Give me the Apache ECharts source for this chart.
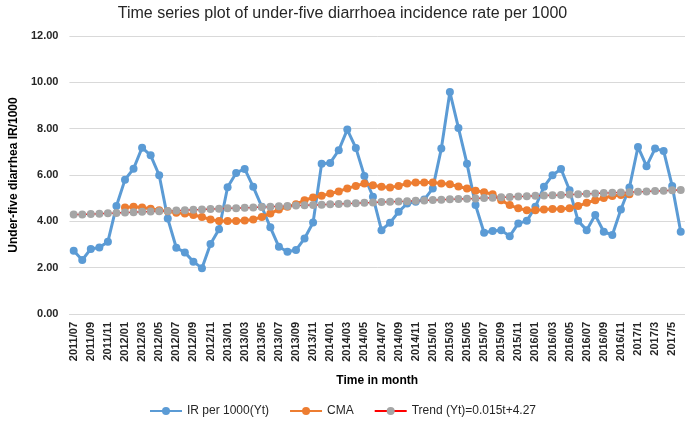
<!DOCTYPE html>
<html>
<head>
<meta charset="utf-8">
<script src="https://cdn.jsdelivr.net/npm/echarts@6/dist/echarts.min.js"></script>
<style>
html,body{margin:0;padding:0;background:#fff;}
#chart{width:685px;height:422px;}
</style>
</head>
<body>
<div id="chart"></div>
<script>
const categories = [
  "2011/07","2011/08","2011/09","2011/10","2011/11","2011/12",
  "2012/01","2012/02","2012/03","2012/04","2012/05","2012/06","2012/07","2012/08","2012/09","2012/10","2012/11","2012/12",
  "2013/01","2013/02","2013/03","2013/04","2013/05","2013/06","2013/07","2013/08","2013/09","2013/10","2013/11","2013/12",
  "2014/01","2014/02","2014/03","2014/04","2014/05","2014/06","2014/07","2014/08","2014/09","2014/10","2014/11","2014/12",
  "2015/01","2015/02","2015/03","2015/04","2015/05","2015/06","2015/07","2015/08","2015/09","2015/10","2015/11","2015/12",
  "2016/01","2016/02","2016/03","2016/04","2016/05","2016/06","2016/07","2016/08","2016/09","2016/10","2016/11","2016/12",
  "2017/1","2017/2","2017/3","2017/4","2017/5","2017/6"
];

const irValues = [
  2.73,2.33,2.81,2.87,3.12,4.66,
  5.80,6.27,7.18,6.85,5.99,4.12,2.86,2.66,2.26,1.98,3.02,3.66,
  5.47,6.09,6.26,5.49,4.63,3.74,2.90,2.69,2.76,3.26,3.95,6.49,
  6.52,7.07,7.96,7.17,5.96,5.06,3.62,3.94,4.41,4.77,4.84,4.94,
  5.42,7.14,9.58,8.03,6.49,4.70,3.51,3.58,3.62,3.36,3.91,4.02,
  4.63,5.49,5.99,6.26,5.34,4.02,3.62,4.27,3.55,3.41,4.51,5.46,
  7.21,6.38,7.14,7.04,5.53,3.55
];

const cmaValues = [
  null,null,null,null,null,null,
  4.60,4.63,4.60,4.54,4.48,4.43,4.37,4.34,4.27,4.19,4.08,4.01,
  4.01,4.01,4.04,4.08,4.19,4.34,4.51,4.63,4.74,4.91,5.03,5.10,
  5.20,5.29,5.42,5.53,5.63,5.56,5.49,5.46,5.53,5.63,5.68,5.68,
  5.68,5.63,5.60,5.50,5.42,5.32,5.26,5.17,4.91,4.70,4.56,4.48,
  4.48,4.51,4.53,4.53,4.56,4.66,4.80,4.91,5.01,5.09,5.14,5.17,
  null,null,null,null,null,null
];

const trendValues = [
  4.29,4.30,4.32,4.33,4.35,4.36,
  4.38,4.39,4.41,4.42,4.44,4.45,4.47,4.48,4.50,4.51,4.53,4.54,
  4.56,4.57,4.59,4.60,4.62,4.63,4.65,4.66,4.68,4.69,4.71,4.72,
  4.74,4.75,4.77,4.78,4.80,4.81,4.83,4.84,4.86,4.87,4.89,4.90,
  4.92,4.93,4.95,4.96,4.98,4.99,5.01,5.02,5.04,5.05,5.07,5.08,
  5.10,5.11,5.13,5.14,5.16,5.17,5.19,5.20,5.22,5.23,5.25,5.26,
  5.28,5.29,5.31,5.32,5.34,5.35
];

const yTicks = { min: 0, max: 12, interval: 2 };

const FONT = "Liberation Sans";
const chart = echarts.init(document.getElementById('chart'), null, {renderer: 'canvas'});
chart.setOption({
  animation: false,
  backgroundColor: '#ffffff',
  title: {
    text: 'Time series plot of under-five diarrhoea incidence rate per 1000',
    left: 'center',
    top: 1,
    textStyle: {fontFamily: FONT, fontSize: 16, fontWeight: 'normal', color: '#262626'}
  },
  legend: {
    top: 400,
    left: 'center',
    itemWidth: 32,
    itemHeight: 10,
    itemGap: 20,
    textStyle: {fontFamily: FONT, fontSize: 12, color: '#262626'},
    data: ['IR per 1000(Yt)', 'CMA', 'Trend (Yt)=0.015t+4.27']
  },
  grid: {left: 58, right: 0, top: 36, bottom: 108, containLabel: false},
  xAxis: {
    type: 'category',
    data: categories,
    boundaryGap: true,
    name: 'Time in month',
    nameLocation: 'middle',
    nameGap: 61,
    nameTextStyle: {fontFamily: FONT, fontSize: 12, fontWeight: 'bold', color: '#000'},
    axisLine: {show: true, lineStyle: {color: '#d9d9d9', width: 1}},
    axisTick: {show: false},
    axisLabel: {interval: 1, rotate: 90, margin: 8, fontFamily: FONT, fontSize: 11, fontWeight: 'bold', color: '#262626'},
    splitLine: {show: false}
  },
  yAxis: {
    type: 'value',
    min: yTicks.min,
    max: yTicks.max,
    interval: yTicks.interval,
    name: 'Under-five diarrhea IR/1000',
    nameLocation: 'middle',
    nameGap: 44,
    nameTextStyle: {fontFamily: FONT, fontSize: 12, fontWeight: 'bold', color: '#000'},
    axisLine: {show: false},
    axisTick: {show: false},
    axisLabel: {margin: 11, fontFamily: FONT, fontSize: 11, fontWeight: 'bold', color: '#262626', formatter: v => v.toFixed(2)},
    splitLine: {show: true, lineStyle: {color: '#d9d9d9', width: 1}}
  },
  series: [
    {
      name: 'IR per 1000(Yt)',
      type: 'line',
      data: irValues,
      symbol: 'circle',
      symbolSize: 8,
      showAllSymbol: true,
      lineStyle: {color: '#5b9bd5', width: 3},
      itemStyle: {color: '#5b9bd5'}
    },
    {
      name: 'CMA',
      type: 'line',
      data: cmaValues,
      symbol: 'circle',
      symbolSize: 8,
      showAllSymbol: true,
      lineStyle: {color: '#ed7d31', width: 3},
      itemStyle: {color: '#ed7d31'}
    },
    {
      name: 'Trend (Yt)=0.015t+4.27',
      type: 'line',
      data: trendValues,
      symbol: 'circle',
      symbolSize: 8,
      showAllSymbol: true,
      lineStyle: {color: '#ff0000', width: 1.5},
      itemStyle: {color: '#a5a5a5'}
    }
  ]
});
</script>
</body>
</html>
